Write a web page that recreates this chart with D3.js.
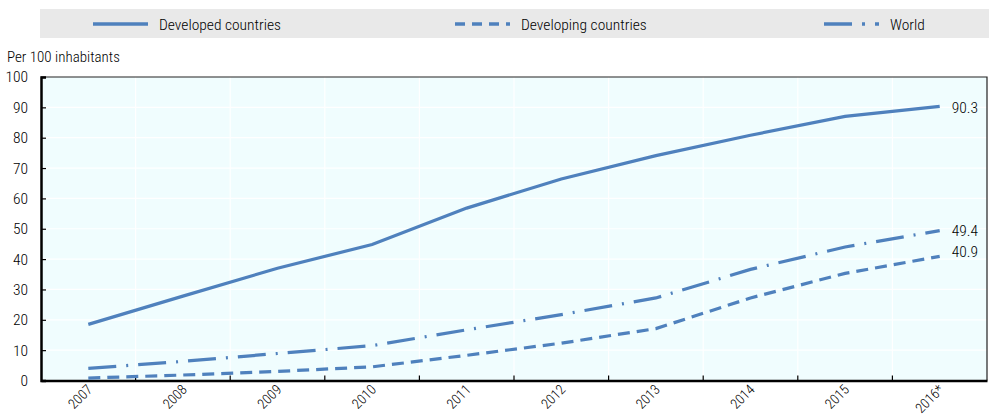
<!DOCTYPE html>
<html>
<head>
<meta charset="utf-8">
<script src="https://cdn.jsdelivr.net/npm/d3@7"></script>
<style>
  html, body { margin: 0; padding: 0; background: #fff; }
  svg { display: block; }
  text { font-family: "Roboto Condensed", "Liberation Sans Narrow", "Arial Narrow", sans-serif; fill: #000; font-weight: 300; }
</style>
</head>
<body>
<svg id="chart" width="989" height="417"></svg>
<script>
const years = ["2007","2008","2009","2010","2011","2012","2013","2014","2015","2016*"];
const developed = [18.5, 27.8, 37.0, 44.8, 56.8, 66.4, 74.1, 80.8, 87.0, 90.3];
const developing = [0.8, 1.8, 3.0, 4.5, 8.3, 12.3, 17.1, 27.2, 35.3, 40.9];
const world = [4.0, 6.3, 8.9, 11.5, 16.7, 21.7, 27.2, 36.6, 44.0, 49.4];
const yTicks = [0,10,20,30,40,50,60,70,80,90,100];
const seriesNames = ["Developed countries", "Developing countries", "World"];
const yTitle = "Per 100 inhabitants";

const color = "#4f81bd";
const dashes = [null, "12,7", "28,10,2,10"];
const seriesData = [developed, developing, world];

const svg = d3.select("#chart");
const pL = 41, pR = 987, pT = 77, pB = 380.5;

const x = d3.scaleBand().domain(years).range([pL, pR]).padding(0);
const y = d3.scaleLinear().domain([0, 100]).range([pB, pT]);

// legend
svg.append("rect").attr("x", 40).attr("y", 9).attr("width", 949).attr("height", 29).attr("fill", "#e9e9e9");
const legX = [93, 455, 824];
seriesNames.forEach((n, i) => {
  const g = svg.append("g");
  g.append("line").attr("x1", legX[i]).attr("x2", legX[i] + 55).attr("y1", 24).attr("y2", 24)
    .attr("stroke", color).attr("stroke-width", 3.5)
    .attr("stroke-dasharray", i === 1 ? "10,7" : (i === 2 ? "28,10,3,10" : null));
  g.append("text").attr("x", legX[i] + 66).attr("y", 29.5).attr("font-size", 15.5).text(n);
});

// plot background
svg.append("rect").attr("x", pL).attr("y", pT).attr("width", pR - pL).attr("height", pB - pT)
  .attr("fill", "#f0fdfe");

// gridlines
svg.append("g").selectAll("line").data(yTicks.filter(d => d > 0 && d < 100)).join("line")
  .attr("x1", pL).attr("x2", pR).attr("y1", d => y(d)).attr("y2", d => y(d))
  .attr("stroke", "#fff").attr("stroke-width", 1.2);
svg.append("g").selectAll("line").data(years.slice(1)).join("line")
  .attr("x1", d => x(d)).attr("x2", d => x(d)).attr("y1", pT).attr("y2", pB)
  .attr("stroke", "#fff").attr("stroke-width", 1.2);

// border top/right
svg.append("path").attr("d", `M${pL},${pT}H${pR}V${pB}`).attr("fill", "none")
  .attr("stroke", "#222").attr("stroke-width", 1.2);

// y axis
const yAxis = svg.append("g").attr("transform", `translate(${pL},0)`)
  .call(d3.axisLeft(y).tickValues(yTicks).tickSize(-5).tickPadding(14).tickFormat(d3.format("d")));
yAxis.select(".domain").attr("stroke", "#000").attr("stroke-width", 2.5);
yAxis.selectAll(".tick line").attr("stroke", "#000").attr("stroke-width", 1.2);
yAxis.selectAll(".tick text").attr("font-size", 15.5).attr("font-family", null).attr("x", -13);

// x axis
const xAxis = svg.append("g").attr("transform", `translate(0,${pB})`)
  .call(d3.axisBottom(x).tickSize(0).tickFormat(d => d));
xAxis.select(".domain").attr("stroke", "#000").attr("stroke-width", 2.5);
xAxis.selectAll(".tick text").attr("font-size", 14).attr("font-family", null)
  .attr("text-anchor", "end").attr("dy", null).attr("y", 0)
  .attr("transform", "translate(5,10) rotate(-45)");
// inner ticks at band boundaries
svg.append("g").selectAll("line").data(years.slice(1)).join("line")
  .attr("x1", d => x(d)).attr("x2", d => x(d)).attr("y1", pB).attr("y2", pB - 5)
  .attr("stroke", "#000").attr("stroke-width", 1.2);

// y title
svg.append("text").attr("x", 7).attr("y", 62).attr("font-size", 15).text(yTitle);

// lines
const line = d3.line().x((d, i) => x(years[i]) + x.bandwidth() / 2).y(d => y(d));
seriesData.forEach((s, i) => {
  svg.append("path").datum(s).attr("d", line).attr("fill", "none")
    .attr("stroke", color).attr("stroke-width", 3.2)
    .attr("stroke-dasharray", dashes[i]);
});

// end labels
const lastX = x(years[years.length - 1]) + x.bandwidth() / 2;
const labelOffsets = [1.5, -4.5, 0];
seriesData.forEach((s, i) => {
  const v = s[s.length - 1];
  svg.append("text").attr("x", lastX + 12).attr("y", y(v) + 5.5 + labelOffsets[i])
    .attr("font-size", 15.5).text(d3.format(".1f")(v));
});
</script>
</body>
</html>
